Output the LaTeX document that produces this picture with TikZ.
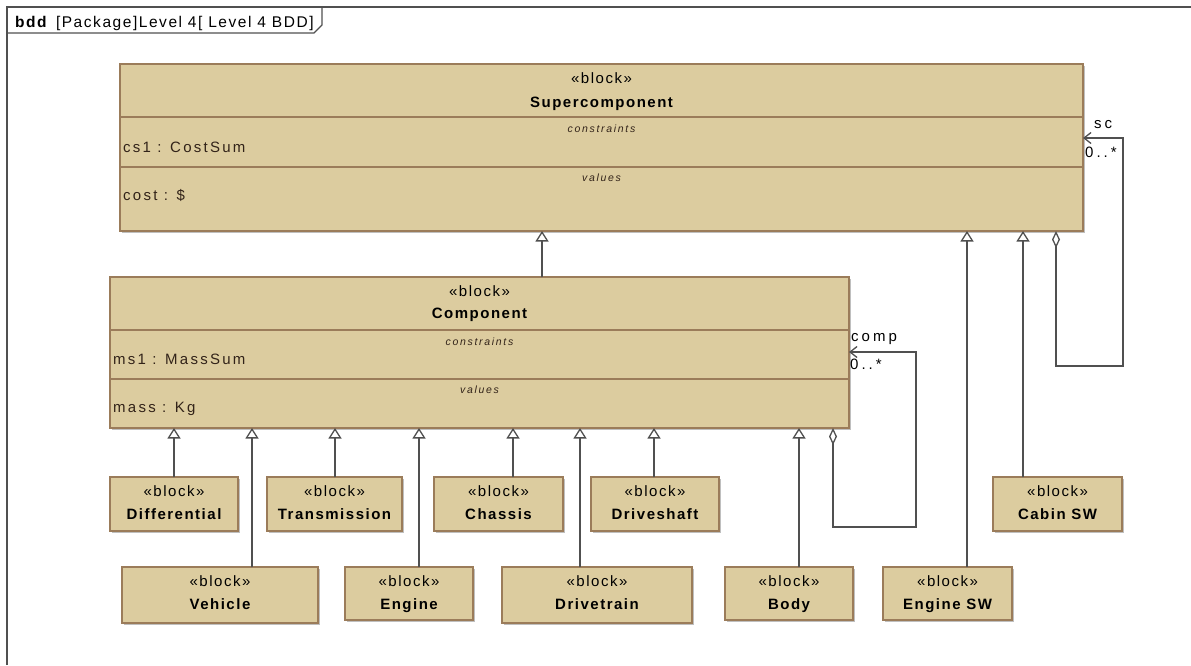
\documentclass[tikz,border=0pt]{standalone}
\usepackage{fontspec}
\setmainfont{Liberation Sans}[LetterSpace=16]
\newfontfamily\blkfont{Liberation Sans}[LetterSpace=10]
\newfontfamily\attrfont{Liberation Sans}[LetterSpace=15]
\newfontfamily\lblfont{Liberation Sans}[LetterSpace=20]
\usetikzlibrary{arrows.meta,shadows,calc}

\definecolor{blockfill}{RGB}{220,204,159}
\definecolor{blockline}{RGB}{155,124,90}
\definecolor{wire}{RGB}{80,80,80}
\definecolor{attrtext}{RGB}{50,35,25}

\tikzset{
  blk/.style={draw=blockline, fill=blockfill, line width=1.4pt, inner sep=0pt, outer sep=0pt,
    anchor=north west, drop shadow={shadow xshift=2.2pt, shadow yshift=-2.2pt, fill=black!25, opacity=1}},
  compline/.style={draw=blockline, line width=1.4pt},
  stereo/.style={anchor=base, inner sep=0pt, font=\blkfont\fontsize{15}{18}\selectfont},
  bname/.style={anchor=base, inner sep=0pt, font=\blkfont\fontsize{15}{18}\selectfont\bfseries},
  comptitle/.style={anchor=base, inner sep=0pt, font=\fontsize{10.5}{12}\selectfont\itshape, text=attrtext},
  attr/.style={anchor=base west, inner sep=0pt, font=\attrfont\fontsize{15}{18}\selectfont, text=attrtext},
  endlabel/.style={anchor=base west, inner sep=0pt, font=\lblfont\fontsize{15}{18}\selectfont},
  wireline/.style={draw=wire, line width=1.3pt},
  gen/.style={wireline, -{Triangle[fill=white, length=10.5pt, width=13pt]}},
  aggr/.style={wireline, {Diamond[fill=white, length=17pt, width=8pt]}-{Straight Barb[length=7pt, width=11pt]}},
  frame/.style={draw=wire, line width=1.3pt},
}

\begin{document}
\begin{tikzpicture}[x=1pt, y=-1pt]
\useasboundingbox (0,0) rectangle (1191,665);

% diagram frame with its name tab
\draw[frame] (7,665) -- (7,7) -- (1191,7);
\draw[frame] (7,33) -- (314,33) -- (322,25) -- (322,7);
\node[anchor=base west, inner sep=0pt, font=\blkfont\fontsize{15.5}{18}\selectfont] (title) at (15,27)
  {\textbf{bdd}\enspace[Package]Level 4[ Level 4 BDD]};

% Supercomponent
\node[blk, minimum width=963pt, minimum height=167pt] (sup) at (120,64) {};
\draw[compline] ($(sup.north west)+(0,53)$) -- ($(sup.north east)+(0,53)$);
\draw[compline] ($(sup.north west)+(0,103)$) -- ($(sup.north east)+(0,103)$);
\node[stereo] (supS) at ($(sup.north)+(0,19.5)$) {«block»};
\node[bname] (supN) at ($(sup.north)+(0,43)$) {Supercomponent};
\node[comptitle] (supC) at ($(sup.north)+(0,68.5)$) {constraints};
\node[attr] (supA1) at ($(sup.north west)+(3,88)$) {cs1 : CostSum};
\node[comptitle] (supV) at ($(sup.north)+(0,117.5)$) {values};
\node[attr] (supA2) at ($(sup.north west)+(3,136)$) {cost : \$};

% Component
\node[blk, minimum width=739pt, minimum height=151pt] (comp) at (110,277) {};
\draw[compline] ($(comp.north west)+(0,53)$) -- ($(comp.north east)+(0,53)$);
\draw[compline] ($(comp.north west)+(0,102)$) -- ($(comp.north east)+(0,102)$);
\node[stereo] (compS) at ($(comp.north)+(0,19)$) {«block»};
\node[bname] (compN) at ($(comp.north)+(0,41)$) {Component};
\node[comptitle] (compC) at ($(comp.north)+(0,68.5)$) {constraints};
\node[attr] (compA1) at ($(comp.north west)+(3,87)$) {ms1 : MassSum};
\node[comptitle] (compV) at ($(comp.north)+(0,116.5)$) {values};
\node[attr] (compA2) at ($(comp.north west)+(3,135)$) {mass : Kg};

% leaf blocks
\foreach \id/\x/\y/\w/\h/\txt in {
    diff/110/477/128/54/Differential,
    trans/267/477/135/54/Transmission,
    chassis/434/477/129/54/Chassis,
    dshaft/591/477/128/54/Driveshaft,
    cabin/993/477/129/54/Cabin SW,
    vehicle/122/567/196/56/Vehicle,
    engine/345/567/128/53/Engine,
    dtrain/502/567/190/56/Drivetrain,
    body/725/567/128/53/Body,
    esw/883/567/129/53/Engine SW} {
  \node[blk, minimum width=\w pt, minimum height=\h pt] (\id) at (\x,\y) {};
  \node[stereo] (\id S) at ($(\id.north)+(0,19.5)$) {«block»};
  \node[bname] (\id N) at ($(\id.north)+(0,42)$) {\txt};
}

% generalizations to Supercomponent
\coordinate (gComp) at ([xshift=62.5pt]comp.north);
\draw[gen] (gComp) -- (gComp |- sup.south);
\coordinate (gEsw) at ([xshift=19.5pt]esw.north);
\draw[gen] (gEsw) -- (gEsw |- sup.south);
\coordinate (gCabin) at ([xshift=-34.5pt]cabin.north);
\draw[gen] (gCabin) -- (gCabin |- sup.south);

% generalizations to Component
\foreach \id/\dx in {diff/0, vehicle/32, trans/0.5, engine/10, chassis/14.5, dtrain/-17, dshaft/-1, body/10} {
  \coordinate (g\id) at ([xshift=\dx pt]\id.north);
  \draw[gen] (g\id) -- (g\id |- comp.south);
}

% self associations
\coordinate (scA) at (1056,231);
\coordinate (scB) at (1056,366);
\coordinate (scC) at (1123,366);
\coordinate (scD) at (1123,138);
\draw[aggr] (scA |- sup.south) -- (scB) -- (scC) -- (scD) -- (scD -| sup.east);
\node[endlabel] (scRole) at (1094,128) {sc};
\node[endlabel] (scMult) at (1085,157) {0..*};

\coordinate (cpA) at (833,428);
\coordinate (cpB) at (833,527);
\coordinate (cpC) at (916,527);
\coordinate (cpD) at (916,352);
\draw[aggr] (cpA |- comp.south) -- (cpB) -- (cpC) -- (cpD) -- (cpD -| comp.east);
\node[endlabel] (cpRole) at (851,341) {comp};
\node[endlabel] (cpMult) at (850,369) {0..*};
\end{tikzpicture}
\end{document}
